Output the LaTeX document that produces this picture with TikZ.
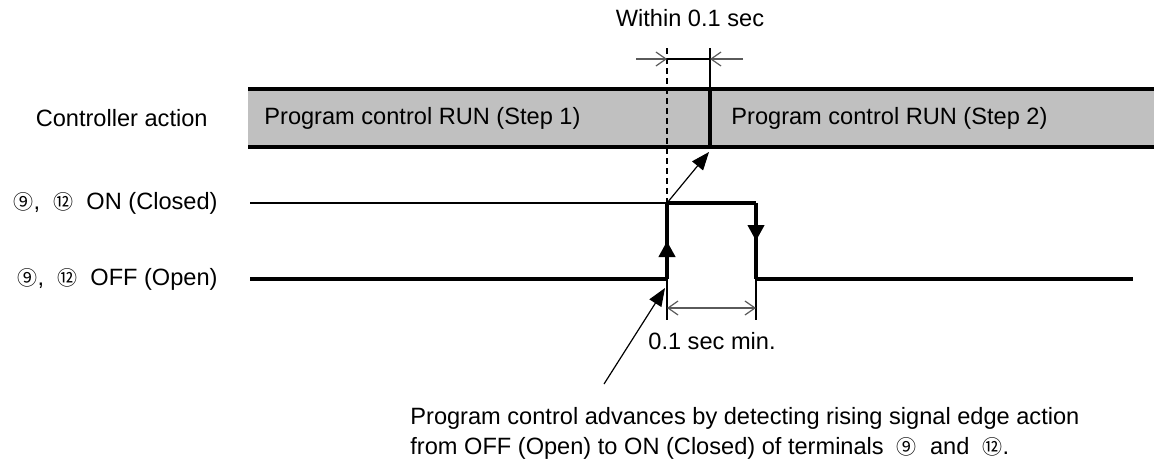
\documentclass[tikz,border=0pt]{standalone}
\usepackage{fontspec}
\setmainfont{Liberation Sans}
\newfontfamily\circfont{Noto Sans CJK JP}
\usetikzlibrary{arrows.meta, calc, decorations.markings}
\definecolor{barfill}{RGB}{192,192,192}
\definecolor{dimgray}{RGB}{90,90,90}
\newcommand{\circnum}[1]{{\circfont\fontsize{10}{12}\selectfont #1}}
\tikzset{
    lbl/.style={font=\fontsize{11.8}{14}\selectfont, inner sep=0pt},
    signal/.style={line width=2pt, black},
    baredge/.style={line width=2.2pt, black},
    dimline/.style={line width=0.6pt, dimgray},
    dimtip/.style={{Straight Barb[length=5pt,width=7pt]}-{Straight Barb[length=5pt,width=7pt]}},
    leader/.style={-{Triangle[length=9pt,width=7pt]}, line width=0.6pt},
    edgeup/.style={postaction={decorate}, decoration={markings,
        mark=at position 0.5 with {\arrow{Triangle[length=8pt,width=8pt]}}}}
}

\begin{document}
\begin{tikzpicture}[x=0.5pt, y=-0.5pt]
    \useasboundingbox (0,0) rectangle (1156,461);
    % Controller action bar
    \fill[barfill] (248,89) rectangle (1154,147);
    \draw[baredge] (248,89) -- (1154,89);
    \draw[baredge] (248,147) -- (1154,147);
    \coordinate (stepT) at (710,48);
    \coordinate (stepA) at (710,89);
    \coordinate (stepB) at (710,147);
    \draw[baredge] (stepA) -- (stepB);
    \draw[line width=0.8pt] (stepT) -- (stepA);
    \node[lbl, anchor=west] (step1) at (264,118) {Program control RUN (Step 1)};
    \node[lbl, anchor=west] (step2) at (731,118) {Program control RUN (Step 2)};
    \node[lbl, anchor=east] (ctrl) at (208,118) {Controller action};

    % Signal levels
    \coordinate (onL)   at (250,203);
    \coordinate (offL)  at (250,279);
    \coordinate (rise0) at (667,279);
    \coordinate (rise1) at (667,203);
    \coordinate (fall0) at (756,203);
    \coordinate (fall1) at (756,279);
    \coordinate (offR)  at (1133,279);
    \draw[line width=0.8pt] (onL) -- (rise1);
    \draw[signal] (offL) -- (rise0);
    \draw[signal, edgeup] (rise0) -- (rise1);
    \draw[signal] (rise1) -- (fall0);
    \draw[signal, edgeup] (fall0) -- (fall1);
    \draw[signal] (fall1) -- (offR);
    \node[lbl, anchor=east] (onlbl) at (218,203) {\circnum{⑨}, \ \circnum{⑫} \ ON (Closed)};
    \node[lbl, anchor=east] (offlbl) at (218,279) {\circnum{⑨}, \ \circnum{⑫} \ OFF (Open)};

    % Within 0.1 sec
    \coordinate (dashT) at (667,48);
    \draw[line width=0.6pt, dash pattern=on 3pt off 2pt] (dashT) -- (rise1);
    \coordinate (wL) at (667,59);
    \coordinate (wR) at (710,59);
    \draw[line width=0.6pt] (wL) -- (wR);
    \draw[dimline, -{Straight Barb[length=5pt,width=7pt]}] (636,59) -- (wL);
    \draw[dimline, -{Straight Barb[length=5pt,width=7pt]}] (743,59) -- (wR);
    \node[lbl] (within) at (690,18) {Within 0.1 sec};
    \draw[leader] (rise1) -- (709,152);

    % 0.1 sec min.
    \coordinate (extL) at (667,320);
    \coordinate (extR) at (756,320);
    \draw[line width=0.6pt] (rise0) -- (extL);
    \draw[line width=0.6pt] (fall1) -- (extR);
    \draw[dimline, dimtip] (667,308) -- (756,308);
    \node[lbl] (minlbl) at (712,341) {0.1 sec min.};

    % Note
    \coordinate (noteT) at (604,384);
    \draw[leader] (noteT) -- (665,288);
    \node[lbl, anchor=west] (note1) at (410,418) {Program control advances by detecting rising signal edge action};
    \node[lbl, anchor=west] (note2) at (410,448) {from OFF (Open) to ON (Closed) of terminals \ \circnum{⑨} \ and \ \circnum{⑫}.};
\end{tikzpicture}
\end{document}
